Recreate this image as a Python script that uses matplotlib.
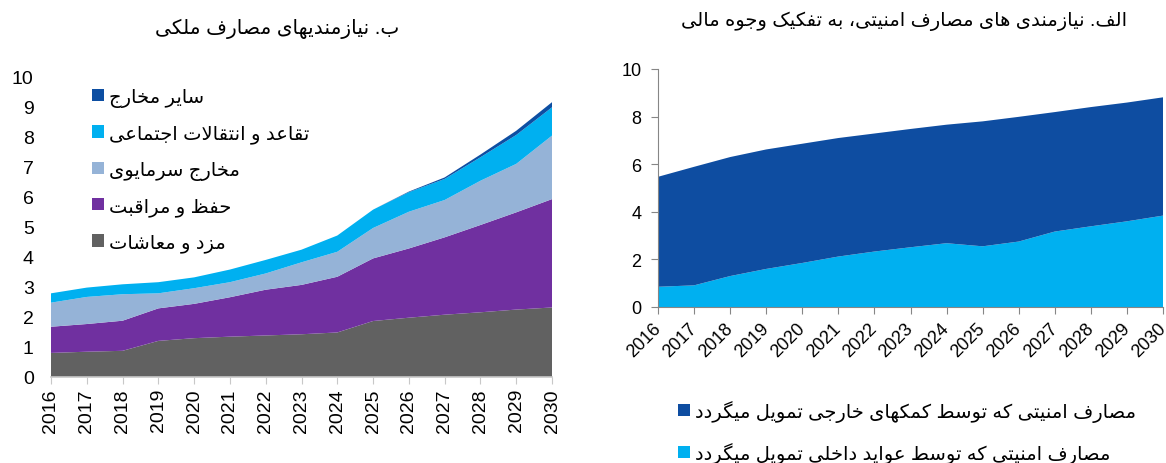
import matplotlib
matplotlib.use("Agg")
import matplotlib.pyplot as plt
from matplotlib.patches import Patch

plt.rcParams['font.family'] = ['Liberation Sans', 'DejaVu Sans']

# ---------------- data ----------------
years = list(range(2016, 2031))

# left chart (civil spending needs)
wages = [0.80, 0.84, 0.87, 1.20, 1.29, 1.34, 1.38, 1.42, 1.48, 1.86, 1.97, 2.07, 2.15, 2.24, 2.31]
om = [0.87, 0.92, 1.00, 1.08, 1.14, 1.31, 1.52, 1.64, 1.85, 2.08, 2.30, 2.57, 2.90, 3.23, 3.60]
capital = [0.80, 0.90, 0.88, 0.50, 0.52, 0.50, 0.54, 0.75, 0.83, 1.01, 1.22, 1.24, 1.47, 1.61, 2.11]
pensions = [0.31, 0.31, 0.33, 0.37, 0.36, 0.42, 0.45, 0.42, 0.54, 0.61, 0.65, 0.70, 0.78, 0.96, 0.94]
other = [0, 0, 0, 0, 0, 0, 0, 0, 0, 0, 0.02, 0.05, 0.09, 0.14, 0.17]

left_labels = ["مزد و معاشات", "حفظ و مراقبت", "مخارج سرمایوی",
               "تقاعد و انتقالات اجتماعی", "سایر مخارج"]
left_colors = ["#616161", "#7030A0", "#95B3D7", "#00B0F0", "#0D4EA2"]

# right chart (security spending by funding source)
domestic = [0.85, 0.91, 1.30, 1.60, 1.85, 2.12, 2.33, 2.51, 2.68, 2.55, 2.75, 3.17, 3.39, 3.60, 3.84]
foreign = [4.62, 4.98, 5.00, 5.02, 5.01, 4.98, 4.96, 4.97, 4.98, 5.25, 5.24, 5.02, 5.01, 4.99, 4.97]
right_labels = ["مصارف امنیتی که توسط کمکهای خارجی تمویل میگردد",
                "مصارف امنیتی که توسط عواید داخلی تمویل میگردد"]
right_colors = ["#0E4DA1", "#00B0F0"]

title_left = "ب. نیازمندیهای مصارف ملکی"
title_right = "الف. نیازمندی های مصارف امنیتی، به تفکیک وجوه مالی"

# ---------------- minimal Arabic/Persian shaping ----------------
FORMS = {
    'ا': ('\uFE8D', '\uFE8E', None, None),
    'آ': ('\uFE81', '\uFE82', None, None),
    'ب': ('\uFE8F', '\uFE90', '\uFE91', '\uFE92'),
    'پ': ('\uFB56', '\uFB57', '\uFB58', '\uFB59'),
    'ت': ('\uFE95', '\uFE96', '\uFE97', '\uFE98'),
    'ث': ('\uFE99', '\uFE9A', '\uFE9B', '\uFE9C'),
    'ج': ('\uFE9D', '\uFE9E', '\uFE9F', '\uFEA0'),
    'چ': ('\uFB7A', '\uFB7B', '\uFB7C', '\uFB7D'),
    'ح': ('\uFEA1', '\uFEA2', '\uFEA3', '\uFEA4'),
    'خ': ('\uFEA5', '\uFEA6', '\uFEA7', '\uFEA8'),
    'د': ('\uFEA9', '\uFEAA', None, None),
    'ذ': ('\uFEAB', '\uFEAC', None, None),
    'ر': ('\uFEAD', '\uFEAE', None, None),
    'ز': ('\uFEAF', '\uFEB0', None, None),
    'ژ': ('\uFB8A', '\uFB8B', None, None),
    'س': ('\uFEB1', '\uFEB2', '\uFEB3', '\uFEB4'),
    'ش': ('\uFEB5', '\uFEB6', '\uFEB7', '\uFEB8'),
    'ص': ('\uFEB9', '\uFEBA', '\uFEBB', '\uFEBC'),
    'ض': ('\uFEBD', '\uFEBE', '\uFEBF', '\uFEC0'),
    'ط': ('\uFEC1', '\uFEC2', '\uFEC3', '\uFEC4'),
    'ظ': ('\uFEC5', '\uFEC6', '\uFEC7', '\uFEC8'),
    'ع': ('\uFEC9', '\uFECA', '\uFECB', '\uFECC'),
    'غ': ('\uFECD', '\uFECE', '\uFECF', '\uFED0'),
    'ف': ('\uFED1', '\uFED2', '\uFED3', '\uFED4'),
    'ق': ('\uFED5', '\uFED6', '\uFED7', '\uFED8'),
    'ک': ('\uFB8E', '\uFB8F', '\uFB90', '\uFB91'),
    'ك': ('\uFED9', '\uFEDA', '\uFEDB', '\uFEDC'),
    'گ': ('\uFB92', '\uFB93', '\uFB94', '\uFB95'),
    'ل': ('\uFEDD', '\uFEDE', '\uFEDF', '\uFEE0'),
    'م': ('\uFEE1', '\uFEE2', '\uFEE3', '\uFEE4'),
    'ن': ('\uFEE5', '\uFEE6', '\uFEE7', '\uFEE8'),
    'ه': ('\uFEE9', '\uFEEA', '\uFEEB', '\uFEEC'),
    'و': ('\uFEED', '\uFEEE', None, None),
    'ی': ('\uFBFC', '\uFBFD', '\uFBFE', '\uFBFF'),
    'ي': ('\uFEF1', '\uFEF2', '\uFEF3', '\uFEF4'),
    'ئ': ('\uFE89', '\uFE8A', '\uFE8B', '\uFE8C'),
}


def joins_next(c):
    return c in FORMS and FORMS[c][2] is not None


def rtl(text):
    chars = list(text)
    n = len(chars)
    res = []
    i = 0
    while i < n:
        c = chars[i]
        prev = chars[i - 1] if i > 0 else None
        nxt = chars[i + 1] if i + 1 < n else None
        if c not in FORMS:
            res.append(c)
            i += 1
            continue
        connect_prev = prev is not None and joins_next(prev)
        if c == 'ل' and nxt == 'ا':
            res.append('\uFEFC' if connect_prev else '\uFEFB')
            i += 2
            continue
        connect_next = nxt is not None and nxt in FORMS and joins_next(c)
        iso, fin, ini, med = FORMS[c]
        if connect_prev and connect_next:
            res.append(med)
        elif connect_prev:
            res.append(fin)
        elif connect_next:
            res.append(ini)
        else:
            res.append(iso)
        i += 1
    return ''.join(reversed(res))


# ---------------- figure ----------------
W, H = 1166, 464
fig = plt.figure(figsize=(W / 100, H / 100), dpi=100)

# ---- left chart ----
axL = fig.add_axes([51 / W, 1 - 378 / H, (552 - 51) / W, (378 - 77) / H])
axL.stackplot(years, wages, om, capital, pensions, other,
              colors=left_colors, linewidth=0)
axL.set_xlim(2016, 2030)
axL.set_ylim(0, 10)
axL.set_yticks(range(0, 11))
axL.set_xticks(years)
axL.set_xticklabels([str(y) for y in years], rotation=90)
for s in ['top', 'right', 'left']:
    axL.spines[s].set_visible(False)
axL.spines['bottom'].set_color('#C8C8C8')
axL.spines['bottom'].set_linewidth(1.2)
axL.tick_params(axis='y', length=0, pad=12.5, labelsize=14)
axL.tick_params(axis='x', length=5, color='#C8C8C8', labelsize=14, pad=3)

handlesL = [Patch(facecolor=c, edgecolor='none') for c in left_colors][::-1]
labsL = [rtl(l) for l in left_labels][::-1]
axL.legend(handlesL, labsL, loc='upper left',
           bbox_to_anchor=((92 - 51) / 501, 1 - (89 - 77) / 301),
           frameon=False, fontsize=14, handlelength=0.6, handleheight=0.6,
           handletextpad=0.25, labelspacing=0.9, borderpad=0, borderaxespad=0)

fig.text(277 / W, 1 - 29 / H, rtl(title_left), ha='center', va='center', fontsize=14.5)

# ---- right chart ----
axR = fig.add_axes([658 / W, 1 - 308 / H, (1163 - 658) / W, (308 - 70) / H])
axR.stackplot(years, domestic, foreign, colors=right_colors[::-1], linewidth=0)
axR.set_xlim(2016, 2030)
axR.set_ylim(0, 10)
axR.set_yticks(range(0, 11, 2))
axR.set_xticks(years)
axR.set_xticklabels([str(y) for y in years], rotation=45, ha='right',
                    va='center', rotation_mode='anchor')
for s in ['top', 'right']:
    axR.spines[s].set_visible(False)
for s in ['left', 'bottom']:
    axR.spines[s].set_color('#868686')
axR.tick_params(axis='both', length=5, color='#868686', labelsize=13)
axR.tick_params(axis='y', pad=7)
axR.tick_params(axis='x', pad=8)

handlesR = [Patch(facecolor=c, edgecolor='none') for c in right_colors]
labsR = [rtl(l) for l in right_labels]
fig.legend(handlesR, labsR, loc='upper left',
           bbox_to_anchor=(678 / W, 1 - 401 / H),
           frameon=False, fontsize=14, handlelength=0.6, handleheight=0.6,
           handletextpad=0.25, labelspacing=1.03, borderpad=0, borderaxespad=0)

fig.text(904 / W, 1 - 21 / H, rtl(title_right), ha='center', va='center', fontsize=14)

fig.savefig('out.png', dpi=100)
